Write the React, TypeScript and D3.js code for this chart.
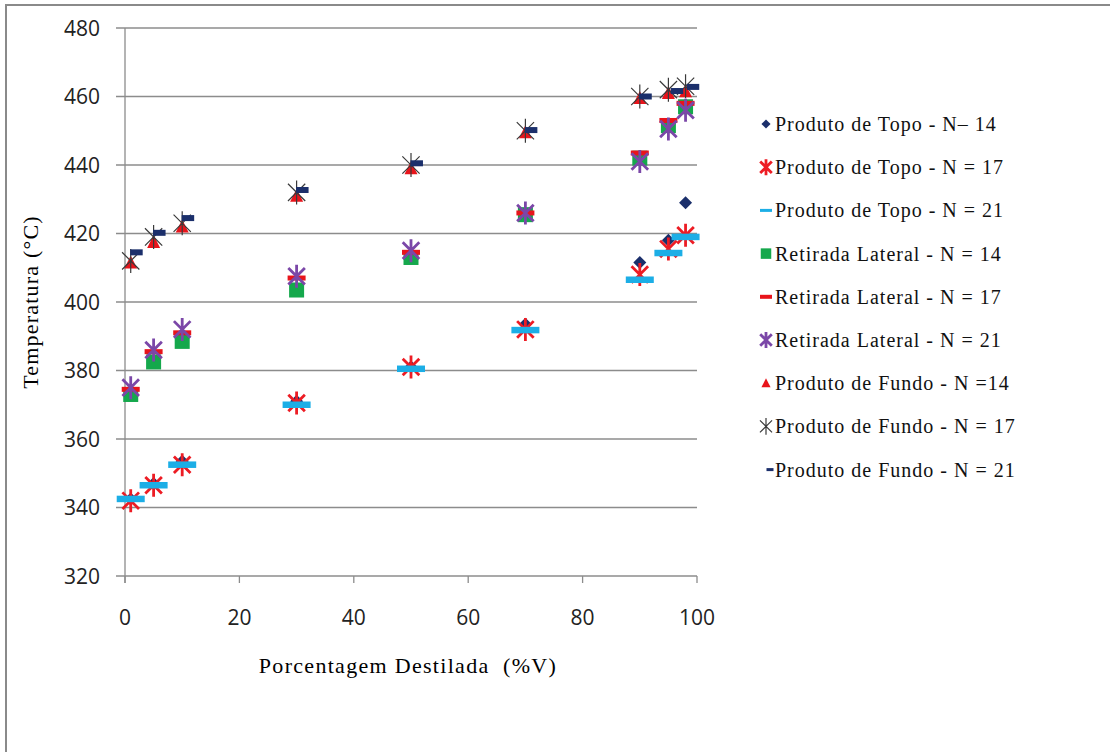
import * as d3 from "d3";

// distillation percentages (%V)
const pct = [1, 5, 10, 30, 50, 70, 90, 95, 98];
const pctFundo21 = [2, 6, 11, 31, 51, 71, 91, 96.5, 99.3];

// temperatures (°C)
const topo14 = [342.5, 347, 353.5, 371, 381, 393.5, 411.5, 418, 429];
const topo17 = [342, 346.5, 352.5, 370.5, 381, 392, 408, 415.5, 419.5];
const topo21 = [342.5, 346.5, 352.5, 370, 380.5, 391.8, 406.5, 414.3, 419];
const lat14 = [373, 382.5, 388.5, 403.5, 413, 425.5, 442, 451.5, 457];
const lat17 = [374.5, 385.5, 391, 407, 414.5, 426, 443.5, 453, 458];
const lat21 = [375, 386, 392, 407.5, 415, 426, 441, 450.5, 456];
const fundo14 = [411.5, 417.5, 422, 431, 439, 449.5, 459.5, 461, 461.5];
const fundo17 = [412, 419, 423, 432, 440, 450, 460, 462, 463];
const fundo21 = [414.5, 420.2, 424.5, 432.7, 440.5, 450.2, 460, 461.6, 462.8];

const yTicks = [320, 340, 360, 380, 400, 420, 440, 460, 480];
const xTicks = [0, 20, 40, 60, 80, 100];

const seriesNames = [
  "Produto de Topo - N\u2013 14",
  "Produto de Topo - N = 17",
  "Produto de Topo - N = 21",
  "Retirada Lateral - N = 14",
  "Retirada Lateral - N = 17",
  "Retirada Lateral - N = 21",
  "Produto de Fundo - N =14",
  "Produto de Fundo - N = 17",
  "Produto de Fundo - N = 21",
];

const series = [
  { x: pct, y: topo14, kind: "diamond", color: "#1b2f6b" },
  { x: pct, y: topo17, kind: "star", color: "#ed1c24" },
  { x: pct, y: topo21, kind: "wideDash", color: "#1caee6" },
  { x: pct, y: lat14, kind: "square", color: "#15a84c" },
  { x: pct, y: lat17, kind: "dash", color: "#e8141b" },
  { x: pct, y: lat21, kind: "star", color: "#7b47a8" },
  { x: pct, y: fundo14, kind: "triangle", color: "#e8141b" },
  { x: pct, y: fundo17, kind: "thinStar", color: "#3a3a3a" },
  { x: pctFundo21, y: fundo21, kind: "shortDash", color: "#1b2f6b" },
];

const margin = { left: 125, right: 697, top: 28, bottom: 576 };

function Marker({ kind, color, cx, cy, s }: { kind: string; color: string; cx: number; cy: number; s: number }) {
  switch (kind) {
    case "diamond": {
      const r = 6.5 * s;
      return <path d={`M${cx},${cy - r}L${cx + r},${cy}L${cx},${cy + r}L${cx - r},${cy}Z`} fill={color} />;
    }
    case "star":
    case "thinStar": {
      const h = (kind === "star" ? 11.5 : 12) * s;
      const d = h * 0.72;
      return (
        <path
          d={`M${cx},${cy - h}L${cx},${cy + h}M${cx - d},${cy - d}L${cx + d},${cy + d}M${cx - d},${cy + d}L${cx + d},${cy - d}`}
          stroke={color}
          strokeWidth={kind === "star" ? 2.8 : 1.2}
          fill="none"
        />
      );
    }
    case "wideDash": {
      const w = s === 1 ? 28 : 12, hh = s === 1 ? 6.5 : 3;
      return <rect x={cx - w / 2} y={cy - hh / 2} width={w} height={hh} fill={color} />;
    }
    case "dash": {
      const w = s === 1 ? 18 : 12, hh = s === 1 ? 5 : 4;
      return <rect x={cx - w / 2} y={cy - hh / 2} width={w} height={hh} fill={color} />;
    }
    case "shortDash": {
      const w = s === 1 ? 12.5 : 7, hh = s === 1 ? 6 : 3;
      return <rect x={cx - w / 2} y={cy - hh / 2} width={w} height={hh} fill={color} />;
    }
    case "square": {
      const a = 15 * s;
      return <rect x={cx - a / 2} y={cy - a / 2} width={a} height={a} fill={color} />;
    }
    case "triangle": {
      const a = 13 * s;
      return <path d={`M${cx},${cy - a * 0.55}L${cx + a / 2},${cy + a * 0.45}L${cx - a / 2},${cy + a * 0.45}Z`} fill={color} />;
    }
  }
  return null;
}

export default function App() {
  const x = d3.scaleLinear().domain([0, 100]).range([margin.left, margin.right]);
  const y = d3.scaleLinear().domain([320, 480]).range([margin.bottom, margin.top]);
  const grid = "#8c8c8c";
  const tickFont = "'Open Sans', 'Liberation Sans', sans-serif";
  const serif = "'Liberation Serif', 'Times New Roman', serif";

  return (
    <svg width={1110} height={752} style={{ position: "absolute", left: 0, top: 0, background: "#fff" }}>
      {/* frame */}
      <path d="M6,752L6,5L1110,5" stroke="#8a8a8a" strokeWidth={2} fill="none" />

      {/* gridlines and y ticks */}
      {yTicks.map((t) => (
        <g key={t}>
          <line x1={margin.left - 9} x2={margin.right} y1={y(t)} y2={y(t)} stroke={grid} strokeWidth={1.3} />
          <text x={100} y={y(t)} dy="0.36em" textAnchor="end" fontFamily={tickFont} fontSize={21} fill="#222">
            {t}
          </text>
        </g>
      ))}
      {/* y axis */}
      <line x1={margin.left} x2={margin.left} y1={margin.top} y2={margin.bottom + 7} stroke={grid} strokeWidth={1.3} />
      {/* x ticks */}
      {xTicks.map((t) => (
        <g key={t}>
          <line x1={x(t)} x2={x(t)} y1={margin.bottom} y2={margin.bottom + 7} stroke={grid} strokeWidth={1.3} />
          <text x={x(t)} y={617} dy="0.36em" textAnchor="middle" fontFamily={tickFont} fontSize={21} fill="#222">
            {t}
          </text>
        </g>
      ))}

      {/* axis titles */}
      <text
        transform={`translate(30,302) rotate(-90)`}
        dy="0.35em"
        textAnchor="middle"
        fontFamily={serif}
        fontSize={22}
        letterSpacing={1.2}
      >
        Temperatura (°C)
      </text>
      <text x={408} y={665} dy="0.35em" textAnchor="middle" fontFamily={serif} fontSize={22} letterSpacing={1.3} style={{ whiteSpace: "pre" }}>
        {"Porcentagem Destilada  (%V)"}
      </text>

      {/* data */}
      {series.map((s, i) => (
        <g key={i}>
          {s.y.map((v, j) => (
            <Marker key={j} kind={s.kind} color={s.color} cx={x(s.x[j])} cy={y(v)} s={1} />
          ))}
        </g>
      ))}

      {/* legend */}
      {series.map((s, i) => {
        const ly = 124 + i * 43.2;
        return (
          <g key={i}>
            <Marker kind={s.kind} color={s.color} cx={s.kind === "shortDash" ? 770 : 766} cy={ly} s={0.7} />
            <text x={775} y={ly} dy="0.35em" fontFamily={serif} fontSize={20} letterSpacing={1} fill="#111">
              {seriesNames[i]}
            </text>
          </g>
        );
      })}
    </svg>
  );
}
